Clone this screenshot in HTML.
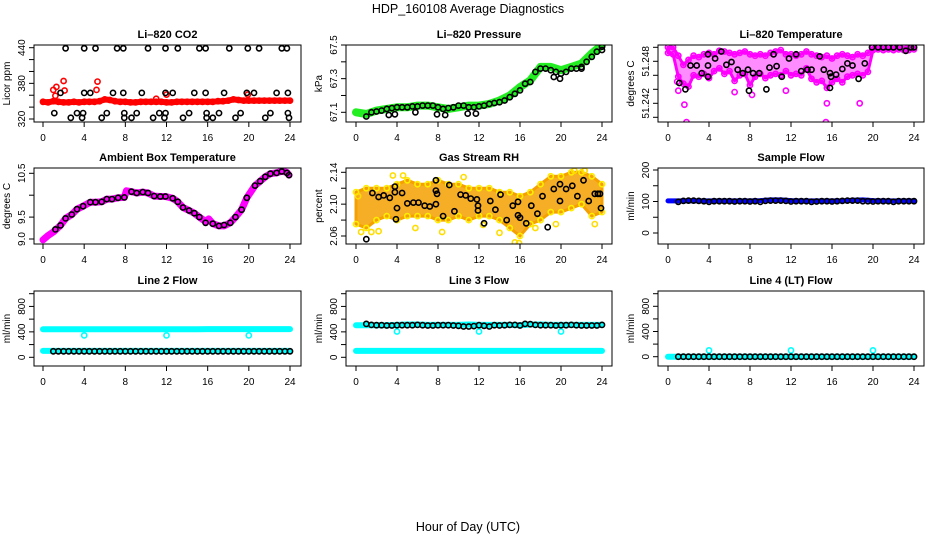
<!DOCTYPE html>
<html><head><meta charset="utf-8"><style>
html,body{margin:0;padding:0;background:#fff;}
svg{display:block;font-family:"Liberation Sans",sans-serif;}
</style></head><body>
<svg id="chart" width="936" height="540" viewBox="0 0 936 540" xmlns="http://www.w3.org/2000/svg">
<text x="468" y="13" text-anchor="middle" font-size="12.5">HDP_160108  Average Diagnostics</text>
<text x="468" y="531" text-anchor="middle" font-size="12.5">Hour of Day (UTC)</text>
</svg>
<script>
// ---------- data ----------
const hoursHalf=[0,0.5,1,1.5,2,2.5,3,3.5,4,4.5,5,5.5,6,6.5,7,7.5,8,8.5,9,9.5,10,10.5,11,11.5,12,12.5,13,13.5,14,14.5,15,15.5,16,16.5,17,17.5,18,18.5,19,19.5,20,20.5,21,21.5,22,22.5,23,23.5,24];
const hoursHourly=[0,1,2,3,4,5,6,7,8,9,10,11,12,13,14,15,16,17,18,19,20,21,22,23,24];
const hoursFlow=[1,1.5,2,2.5,3,3.5,4,4.5,5,5.5,6,6.5,7,7.5,8,8.5,9,9.5,10,10.5,11,11.5,12,12.5,13,13.5,14,14.5,15,15.5,16,16.5,17,17.5,18,18.5,19,19.5,20,20.5,21,21.5,22,22.5,23,23.5,24];
const xTicks=[0,4,8,12,16,20,24];

// Panel 1 CO2
const co2Red=[349,348,350,349,348,348,349,348,349,349,349,350,353,352,350,349,349,348,348,349,349,349,349,349,348,348,349,349,349,349,349,349,349,349,350,350,351,353,352,351,351,351,351,351,351,351,351,351,351];
const co2RedOutX=[1.0,1.2,1.3,2.0,2.1,5.2,5.3,11.0,12.0,19.9];
const co2RedOutY=[369,359,374,384,368,369,383,354,361,361];
const co2BlackX=[2.2,4.0,5.1,7.2,7.8,10.2,11.9,13.1,15.2,15.8,18.1,19.9,21.0,23.2,23.7,
1.7,4.0,4.6,6.8,7.8,9.6,11.9,12.6,14.7,15.8,17.6,19.8,20.5,22.7,23.8,
1.1,3.3,3.9,6.2,7.9,9.1,11.3,11.9,14.2,15.9,17.1,19.2,22.1,23.8,
2.7,3.8,5.7,7.9,8.6,10.7,11.8,13.6,15.9,16.5,18.7,21.6,23.9];
const co2BlackY=[439,439,439,439,439,439,439,439,439,439,439,439,439,439,439,
364,364,364,364,364,364,364,364,364,364,364,364,364,364,364,
330,330,330,330,330,330,330,330,330,330,330,330,330,330,
322,322,322,322,322,322,322,322,322,322,322,322,322];

// Panel 2 Pressure
const presGreen=[67.10,67.09,67.11,67.12,67.13,67.13,67.14,67.14,67.13,67.12,67.13,67.14,67.14,67.15,67.17,67.20,67.25,67.29,67.37,67.37,67.35,67.37,67.39,67.45,67.50];
const presBlackX=[1,1.5,2,2.5,3,3.5,4,4.5,5,5.5,6,6.5,7,7.5,8,8.5,9,9.5,10,10.5,11,11.5,12,12.5,13,13.5,14,14.5,15,15.5,16,16.5,17,17.5,18,18.5,19,19.5,20,20.5,21,21.5,22,22.5,23,23.5,24,3.2,3.8,5.8,7.9,8.7,10.9,11.7,19.3,19.9,22,24];
const presBlackY=[67.075,67.10,67.105,67.11,67.12,67.125,67.13,67.13,67.13,67.135,67.135,67.14,67.14,67.14,67.13,67.12,67.125,67.13,67.14,67.14,67.13,67.13,67.135,67.14,67.15,67.155,67.16,67.17,67.19,67.21,67.23,67.27,67.28,67.34,67.36,67.36,67.35,67.34,67.33,67.34,67.36,67.36,67.37,67.40,67.43,67.46,67.49,67.084,67.088,67.10,67.088,67.084,67.092,67.092,67.31,67.30,67.36,67.47];

// Panel 3 Temperature
const tempUpper=[51.2500,51.2500,51.2488,51.2475,51.2482,51.2488,51.2486,51.2490,51.2492,51.2490,51.2495,51.2494,51.2492,51.2490,51.2492,51.2494,51.2490,51.2488,51.2490,51.2488,51.2492,51.2494,51.2496,51.2490,51.2490,51.2488,51.2490,51.2494,51.2490,51.2488,51.2486,51.2488,51.2484,51.2488,51.2490,51.2488,51.2486,51.2490,51.2488,51.2492,51.2500,51.2500,51.2500,51.2500,51.2500,51.2500,51.2500,51.2500,51.2500];
const tempLower=[51.2492,51.2490,51.2458,51.2448,51.2444,51.2460,51.2458,51.2462,51.2456,51.2466,51.2470,51.2462,51.2466,51.2452,51.2460,51.2462,51.2446,51.2458,51.2462,51.2456,51.2460,51.2462,51.2460,51.2466,51.2460,51.2462,51.2460,51.2470,51.2455,51.2450,51.2452,51.2442,51.2450,51.2455,51.2450,51.2458,51.2460,51.2462,51.2460,51.2465,51.2496,51.2497,51.2496,51.2497,51.2496,51.2497,51.2496,51.2496,51.2497];
const tempOutX=[1.8,15.4,1.6,8.2,18.7,15.5,1.0,6.5,0.9,11.5];
const tempOutY=[51.2393,51.2393,51.2418,51.2432,51.2420,51.2420,51.2438,51.2436,51.2451,51.2438];
const tempBlackX=[1.1,1.7,2.2,2.8,3.3,3.9,3.9,3.9,4.6,5.2,5.7,6.2,6.8,7.3,7.8,7.9,8.3,8.9,9.6,9.9,10.3,10.6,11.1,11.8,12.5,13,13.6,14,14.8,15.2,15.8,15.8,15.9,16.4,17,17.5,18,18.6,19.2,19.9,20.5,21,21.5,22,22.6,23.2,23.7,24];
const tempBlackY=[51.2449,51.2440,51.2474,51.2474,51.2463,51.2474,51.2490,51.2458,51.2484,51.2494,51.2475,51.2479,51.2468,51.2463,51.2468,51.2438,51.2463,51.2463,51.2440,51.2471,51.2490,51.2473,51.2458,51.2484,51.2490,51.2466,51.2468,51.2468,51.2487,51.2468,51.2463,51.2442,51.2458,51.2461,51.2469,51.2477,51.2474,51.2455,51.2477,51.2500,51.2500,51.2500,51.2500,51.2500,51.2500,51.2495,51.2500,51.2500];

// Panel 4 Ambient box temperature
const ambMagX=[0,0.5,1,1.7,2.2,2.8,3.3,3.9,4.6,5.1,5.7,6.2,6.7,7.3,7.9,8.1,8.6,9.1,9.7,10.2,10.8,11.4,11.9,12.6,13.1,13.6,14.2,14.7,15.2,15.8,16.1,16.5,17.1,17.6,18.2,18.7,19.3,19.8,20.6,21.1,21.6,22.1,22.7,23.2,23.7,23.9];
const ambMagY=[8.98,9.08,9.16,9.31,9.47,9.56,9.68,9.75,9.84,9.84,9.85,9.91,9.91,9.94,9.95,10.10,10.08,10.05,10.07,10.05,9.98,9.97,9.97,9.93,9.85,9.72,9.65,9.59,9.50,9.40,9.46,9.35,9.30,9.30,9.37,9.50,9.67,9.94,10.22,10.32,10.42,10.49,10.51,10.55,10.52,10.46];
const ambBlackX=[1.2,1.7,2.2,2.8,3.3,3.9,4.6,5.1,5.7,6.2,6.7,7.3,7.9,8.6,9.1,9.7,10.2,10.8,11.4,11.9,12.6,13.1,13.6,14.2,14.7,15.2,15.8,16.5,17.1,17.6,18.2,18.7,19.3,19.8,20.6,21.1,21.6,22.1,22.7,23.2,23.7,23.9];
const ambBlackY=[9.22,9.31,9.47,9.56,9.68,9.75,9.84,9.84,9.85,9.91,9.91,9.94,9.95,10.08,10.05,10.07,10.05,9.98,9.97,9.97,9.93,9.85,9.72,9.65,9.59,9.50,9.37,9.35,9.30,9.32,9.37,9.50,9.67,9.94,10.22,10.32,10.42,10.49,10.51,10.54,10.51,10.46];

// Panel 5 Gas stream RH
const rhUpper=[2.115,2.120,2.120,2.120,2.125,2.130,2.125,2.125,2.130,2.125,2.125,2.120,2.120,2.120,2.115,2.115,2.110,2.115,2.125,2.135,2.135,2.140,2.140,2.135,2.125];
const rhLower=[2.075,2.070,2.080,2.085,2.080,2.085,2.085,2.085,2.080,2.080,2.085,2.080,2.085,2.085,2.080,2.070,2.060,2.075,2.080,2.090,2.090,2.095,2.100,2.085,2.090];
const rhOutX=[0.5,1.5,2.2,5.8,8.4,12.4,15.5,15.9,19.5,23.3,4.6,3.6,21.3,22.3,0.2,10.5,14.0,17.5];
const rhOutY=[2.065,2.065,2.066,2.070,2.065,2.074,2.052,2.051,2.075,2.075,2.136,2.136,2.142,2.142,2.110,2.134,2.064,2.070];
const rhBlackX=[1.0,1.6,2.2,2.7,3.3,3.8,3.8,4.0,3.9,4.5,5.0,5.6,6.1,6.7,7.2,7.8,7.8,7.8,7.9,8.5,9.1,9.6,10.2,10.7,11.2,11.8,11.9,11.9,12.5,13.1,13.6,14.1,14.7,15.3,15.8,15.8,16.0,16.6,17.1,17.7,18.2,18.7,19.3,19.9,19.9,20.5,21.1,21.6,22.2,22.7,23.3,23.6,23.8,23.9];
const rhBlackY=[2.056,2.114,2.109,2.111,2.108,2.122,2.115,2.095,2.081,2.114,2.101,2.102,2.102,2.098,2.097,2.100,2.130,2.117,2.113,2.085,2.124,2.091,2.112,2.111,2.107,2.106,2.098,2.092,2.076,2.104,2.093,2.112,2.080,2.098,2.103,2.086,2.083,2.076,2.098,2.088,2.110,2.071,2.119,2.104,2.125,2.119,2.123,2.110,2.130,2.104,2.113,2.113,2.113,2.095];

// Panel 6 Sample flow
const sampleBlue=[102,102,102,102,102,102,102,102,102,103,105,105,103,102,102,102,102,102,104,105,103,102,102,102,102];
const sampleBlack=[99,102,103,103,102,101,99,101,101,101,101,100,101,101,100,101,99,102,103,103,103,102,100,101,101,101,99,100,101,101,100,101,102,103,103,103,101,101,100,101,101,101,99,101,101,101,101];

// Panel 7 Line 2 flow
const line2CyanHi=[440,440,441,441,441,442,442,442,441,441,441,441,442,442,442,442,443,443,443,443,443,443,443,443,443];
const line2CyanLo=[100,100,100,100,100,100,100,100,100,100,100,100,100,100,100,100,100,100,100,100,100,100,100,100,100];
const line2OutX=[4,12,20];
const line2OutY=[345,345,345];
const line2Black=[95,95,95,95,95,95,95,95,95,95,95,95,95,95,95,95,95,95,95,95,95,95,95,95,95,95,95,95,95,95,95,95,95,95,95,95,95,95,95,95,95,95,95,95,95,95,95];

// Panel 8 Line 3 flow
const line3CyanHi=[505,505,505,505,510,515,515,510,510,510,510,515,510,510,510,510,505,515,515,510,510,510,510,510,510];
const line3CyanLo=[100,100,100,100,100,100,100,100,100,100,100,100,100,100,100,100,100,100,100,100,100,100,100,100,100];
const line3OutX=[4,12,20];
const line3OutY=[405,405,405];
const line3Black=[525,510,505,505,500,500,505,505,505,505,510,505,500,500,505,505,505,500,495,485,485,490,505,495,485,505,500,505,510,510,500,525,520,510,505,505,505,500,505,505,510,505,500,500,500,500,510];

// Panel 9 Line 4 flow
const line4Cyan=[0,0,0,0,0,0,0,0,0,0,0,0,0,0,0,0,0,0,0,0,0,0,0,0,0];
const line4OutX=[4,12,20];
const line4OutY=[100,100,100];
const line4Black=[0,0,0,0,0,0,0,0,0,0,0,0,0,0,0,0,0,0,0,0,0,0,0,0,0,0,0,0,0,0,0,0,0,0,0,0,0,0,0,0,0,0,0,0,0,0,0];

// ---------- rendering ----------
const NS='http://www.w3.org/2000/svg';
const svg=document.getElementById('chart');
function mk(parent,tag,attrs){const e=document.createElementNS(NS,tag);for(const k in attrs)e.setAttribute(k,attrs[k]);parent.appendChild(e);return e;}
const cols=[{l:34,r:301,a:43,b:290},{l:346,r:612,a:356,b:602},{l:658,r:924,a:668,b:914}];
const rows=[{t:45,b:122},{t:168,b:244},{t:291,b:366}];

function panel(name,title,ci,ri,yref,yTicks,yLabels,yLabelText,ytitle){
  const c=cols[ci],r=rows[ri];
  const g=mk(svg,'g',{});
  
  
  const xs=h=>c.a+(h/24)*(c.b-c.a);
  const [v1,p1,v2,p2]=yref;
  const ys=v=>p1+(v-v1)*(p2-p1)/(v2-v1);
  const clip='clip-'+name;
  const cp=mk(g,'clipPath',{id:clip});mk(cp,'rect',{x:c.l,y:r.t,width:c.r-c.l,height:r.b-r.t});
  const plot=mk(g,'g',{'clip-path':'url(#'+clip+')'});
  
  
  const tt=mk(g,'text',{x:(c.l+c.r)/2,y:r.t-7,'text-anchor':'middle','font-size':'11','font-weight':'bold'});
  tt.textContent=title;
  
  
  const box=mk(g,'rect',{x:c.l,y:r.t,width:c.r-c.l,height:r.b-r.t,fill:'none',stroke:'#000','stroke-width':1});
  
  
  const xa=mk(g,'g',{});
  
  
  xTicks.forEach(h=>{
    mk(xa,'line',{x1:xs(h),x2:xs(h),y1:r.b,y2:r.b+5,stroke:'#000'});
    const t=mk(xa,'text',{x:xs(h),y:r.b+19,'text-anchor':'middle','font-size':'10'});
    t.textContent=String(h);
    
    
  });
  const ya=mk(g,'g',{});
  
  
  yTicks.forEach(v=>{mk(ya,'line',{x1:c.l-5,x2:c.l,y1:ys(v),y2:ys(v),stroke:'#000'});});
  yLabels.forEach((v,i)=>{
    const y=ys(v),x=c.l-9;
    const t=mk(ya,'text',{x:x,y:y,'text-anchor':'middle','font-size':'10',transform:'rotate(-90 '+x+' '+y+')'});
    t.textContent=yLabelText[i];
    
    
  });
  const yx=c.l-24,yy=(r.t+r.b)/2;
  const yt=mk(ya,'text',{x:yx,y:yy,'text-anchor':'middle','font-size':'10',transform:'rotate(-90 '+yx+' '+yy+')'});
  yt.textContent=ytitle;
  
  
  return {g:plot,xs,ys,name};
}
function line(p,xv,yv,color,w,label){
  const d=xv.map((h,i)=>(i?'L':'M')+p.xs(h).toFixed(1)+' '+p.ys(yv[i]).toFixed(1)).join(' ');
  const e=mk(p.g,'path',{d:d,fill:'none',stroke:color,'stroke-width':w,'stroke-linejoin':'round','stroke-linecap':'round'});
  
  
}
function band(p,xv,up,lo,color,op,label){
  let d=xv.map((h,i)=>(i?'L':'M')+p.xs(h).toFixed(1)+' '+p.ys(up[i]).toFixed(1)).join(' ');
  for(let i=xv.length-1;i>=0;i--)d+=' L'+p.xs(xv[i]).toFixed(1)+' '+p.ys(lo[i]).toFixed(1);
  const e=mk(p.g,'path',{d:d+' Z',fill:color,'fill-opacity':op,stroke:color,'stroke-width':3,'stroke-linejoin':'round'});
  
  
}
function pts(p,xv,yv,color,label,fill){
  const g=mk(p.g,'g',{});
  
  
  xv.forEach((h,i)=>{
    const c=mk(g,'circle',{cx:p.xs(h).toFixed(1),cy:p.ys(yv[i]).toFixed(1),r:2.6,fill:fill||'none',stroke:color,'stroke-width':1.6});
    
    
  });
}

// P1
let p=panel('co2','Li\u2013820 CO2',0,0,[320,119,440,47.7],[320,340,360,380,400,420,440],[320,380,440],['320','380','440'],'Licor ppm');
line(p,hoursHalf,co2Red,'#ff0000',6,'co2-red-series');
pts(p,hoursHalf,co2Red,'#ff0000','co2-red-points');
pts(p,co2RedOutX,co2RedOutY,'#ff0000','co2-red-outliers');
pts(p,co2BlackX,co2BlackY,'#000','co2-hourly-points');
// P2
p=panel('pressure','Li\u2013820 Pressure',1,0,[67.1,112.3,67.5,45],[67.1,67.2,67.3,67.4,67.5],[67.1,67.3,67.5],['67.1','67.3','67.5'],'kPa');
line(p,hoursHourly,presGreen,'#22ee22',8,'pressure-green-series');
pts(p,presBlackX,presBlackY,'#000','pressure-hourly-points');
// P3
p=panel('temperature','Li\u2013820 Temperature',2,0,[51.240,117.3,51.250,47.3],[51.240,51.242,51.244,51.246,51.248,51.250],[51.242,51.248],['51.242','51.248'],'degrees C');
band(p,hoursHalf,tempUpper,tempLower,'#ff00ff',0.45,'temperature-magenta-cloud');
pts(p,hoursHalf,tempUpper,'#ff00ff','temperature-magenta-upper');
pts(p,hoursHalf,tempLower,'#ff00ff','temperature-magenta-lower');
pts(p,tempOutX,tempOutY,'#ff00ff','temperature-magenta-outliers');
pts(p,tempBlackX,tempBlackY,'#000','temperature-hourly-points');
// P4
p=panel('ambient','Ambient Box Temperature',0,1,[9.0,239,10.5,173.3],[9.0,9.5,10.0,10.5],[9.0,9.5,10.5],['9.0','9.5','10.5'],'degrees C');
line(p,ambMagX,ambMagY,'#ff00ff',7,'ambient-magenta-series');
pts(p,ambBlackX,ambBlackY,'#000','ambient-hourly-points');
// P5
p=panel('rh','Gas Stream RH',1,1,[2.06,236,2.14,172.3],[2.06,2.08,2.10,2.12,2.14],[2.06,2.10,2.14],['2.06','2.10','2.14'],'percent');
band(p,hoursHourly,rhUpper,rhLower,'#f5a000',0.85,'rh-orange-cloud');
pts(p,hoursHourly,rhUpper,'#ffee00','rh-yellow-upper');
pts(p,hoursHourly,rhLower,'#ffee00','rh-yellow-lower');
pts(p,rhOutX,rhOutY,'#ffdd00','rh-yellow-outliers');
pts(p,rhBlackX,rhBlackY,'#000','rh-hourly-points');
// P6
p=panel('sample-flow','Sample Flow',2,1,[0,233,200,170],[0,50,100,150,200],[0,100,200],['0','100','200'],'ml/min');
line(p,hoursHourly,sampleBlue,'#0000ff',5,'sample-flow-blue-series');
pts(p,hoursFlow,sampleBlack,'#000','sample-flow-hourly-points');
// P7
p=panel('line2','Line 2 Flow',0,2,[0,357.3,1000,293.7],[0,200,400,600,800,1000],[0,400,800],['0','400','800'],'ml/min');
line(p,hoursHourly,line2CyanHi,'#00ffff',6,'line2-cyan-high-series');
line(p,hoursHourly,line2CyanLo,'#00ffff',6,'line2-cyan-low-series');
pts(p,line2OutX,line2OutY,'#00ffff','line2-cyan-outliers');
pts(p,hoursFlow,line2Black,'#000','line2-hourly-points');
// P8
p=panel('line3','Line 3 Flow',1,2,[0,357.3,1000,293.7],[0,200,400,600,800,1000],[0,400,800],['0','400','800'],'ml/min');
line(p,hoursHourly,line3CyanHi,'#00ffff',6,'line3-cyan-high-series');
line(p,hoursHourly,line3CyanLo,'#00ffff',6,'line3-cyan-low-series');
pts(p,line3OutX,line3OutY,'#00ffff','line3-cyan-outliers');
pts(p,hoursFlow,line3Black,'#000','line3-hourly-points');
// P9
p=panel('line4','Line 4 (LT) Flow',2,2,[0,356.7,1000,293.7],[0,200,400,600,800,1000],[0,400,800],['0','400','800'],'ml/min');
line(p,hoursHourly,line4Cyan,'#00ffff',6,'line4-cyan-series');
pts(p,line4OutX,line4OutY,'#00ffff','line4-cyan-outliers');
pts(p,hoursFlow,line4Black,'#000','line4-hourly-points');
</script>
</body></html>
